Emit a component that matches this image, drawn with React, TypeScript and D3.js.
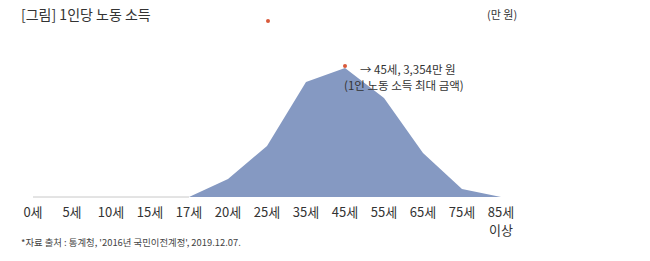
import React from "react";
import * as d3 from "d3";

const categories = ["0세", "5세", "10세", "15세", "17세", "20세", "25세", "35세", "45세", "55세", "65세", "75세", "85세"];
const values = [0, 0, 0, 0, 0, 468, 1326, 2990, 3354, 2574, 1144, 208, 0];
const title = "[그림] 1인당 노동 소득";
const unit = "(만 원)";
const source = "*자료 출처 : 통계청, '2016년 국민이전계정', 2019.12.07.";
const peakIndex = 8;

const W = 650;
const H = 261;
const FONT = "'Noto Sans CJK KR', 'Noto Sans', sans-serif";

export default function App() {
  const x = d3.scalePoint<string>().domain(categories).range([33, 501]);
  const y = d3.scaleLinear().domain([0, 3354]).range([197, 68]);
  const data = categories.map((c, i) => ({ c, v: values[i] }));
  const area = d3
    .area<{ c: string; v: number }>()
    .x((d) => x(d.c)!)
    .y0(y(0))
    .y1((d) => y(d.v));
  const px = x(categories[peakIndex])!;
  const py = y(values[peakIndex]);
  return (
    <svg width={W} height={H} style={{ position: "absolute", left: 0, top: 0, background: "#fff" }}>
      <text x={21} y={20} fontFamily={FONT} fontSize={14} fill="#333">{title}</text>
      <text x={487} y={19} fontFamily={FONT} fontSize={11} fill="#333">{unit}</text>
      <line x1={x(categories[0])} x2={x(categories[4])} y1={y(0)} y2={y(0)} stroke="#c8c8c8" strokeWidth={1} />
      <path d={area(data) || ""} fill="#8599c2" />
      <circle cx={268} cy={21} r={2} fill="#d9593a" />
      <circle cx={px} cy={py - 2} r={2} fill="#d9593a" />
      <text x={px + 15} y={py + 6} fontFamily={FONT} fontSize={11.5} fill="#333">{"→ 45세, 3,354만 원"}</text>
      <text x={px - 1} y={py + 22} fontFamily={FONT} fontSize={11.5} fill="#333">{"(1인 노동 소득 최대 금액)"}</text>
      {categories.map((c) => (
        <text key={c} x={x(c)} y={217} textAnchor="middle" fontFamily={FONT} fontSize={13} fill="#333">{c}</text>
      ))}
      <text x={x(categories[categories.length - 1])} y={235} textAnchor="middle" fontFamily={FONT} fontSize={13} fill="#333">이상</text>
      <text x={21} y={246} fontFamily={FONT} fontSize={9.4} fill="#444">{source}</text>
    </svg>
  );
}
